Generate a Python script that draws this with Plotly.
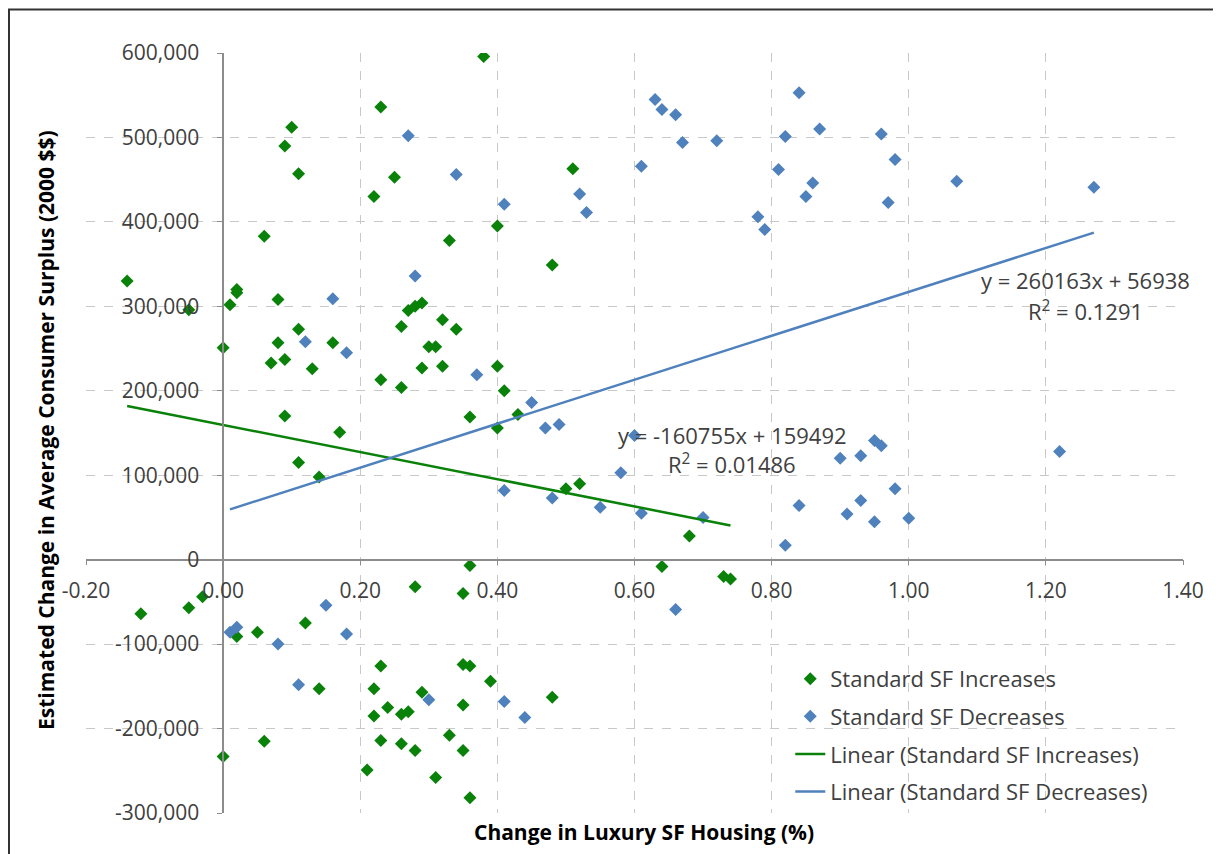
import plotly.graph_objects as go

# ---------------- data ----------------
inc_x = [-0.14, -0.05, 0.00, 0.01, 0.02, 0.02, 0.06, 0.08, 0.08, 0.07, 0.09, 0.09, 0.11, 0.13,
         0.11, 0.14, 0.17, 0.16, 0.09, 0.10, 0.11, 0.23, 0.22, 0.25, 0.23, 0.26, 0.26, 0.27,
         0.28, 0.29, 0.32, 0.34, 0.30, 0.31, 0.29, 0.32, 0.36, 0.40, 0.41, 0.40, 0.43, 0.50,
         0.52, 0.68, 0.38, 0.51, 0.40, 0.33, 0.48,
         0.36, 0.64, 0.73, 0.74, 0.28, 0.35, -0.12, -0.05, -0.03, 0.02, 0.05, 0.12, 0.14,
         0.06, 0.00, 0.23, 0.22, 0.24, 0.22, 0.26, 0.27, 0.29, 0.35, 0.36, 0.39, 0.35, 0.48,
         0.33, 0.23, 0.26, 0.28, 0.35, 0.31, 0.21, 0.36]
inc_y = [330000, 296000, 251000, 302000, 316000, 320000, 383000, 308000, 257000, 233000, 237000,
         170000, 273000, 226000, 115000, 98000, 151000, 257000, 490000, 512000, 457000, 536000,
         430000, 453000, 213000, 204000, 276000, 295000, 300000, 304000, 284000, 273000, 252000,
         252000, 227000, 229000, 169000, 229000, 200000, 156000, 172000, 84000, 90000, 28000,
         596000, 463000, 395000, 378000, 349000,
         -7000, -8000, -20000, -23000, -32000, -40000, -64000, -57000, -44000, -91000, -86000,
         -75000, -153000, -215000, -233000, -126000, -153000, -175000, -185000, -183000, -180000,
         -157000, -124000, -126000, -144000, -172000, -163000, -208000, -214000, -218000, -226000,
         -226000, -258000, -249000, -282000]

dec_x = [0.27, 0.28, 0.16, 0.12, 0.18, 0.34, 0.41, 0.52, 0.53, 0.61, 0.63, 0.64, 0.66, 0.67,
         0.72, 0.78, 0.79, 0.81, 0.82, 0.84, 0.85, 0.86, 0.87, 0.96, 0.98, 0.97, 1.07, 1.27,
         0.37, 0.45, 0.47, 0.49, 0.60, 0.58, 0.41, 0.48, 0.55, 0.61, 0.70, 0.84, 0.82, 0.90,
         0.93, 0.95, 0.96, 1.22, 0.98, 0.93, 0.91, 0.95, 1.00,
         0.66, 0.30, 0.41, 0.44, 0.01, 0.02, 0.08, 0.15, 0.18, 0.11]
dec_y = [502000, 336000, 309000, 258000, 245000, 456000, 421000, 433000, 411000, 466000, 545000,
         533000, 527000, 494000, 496000, 406000, 391000, 462000, 501000, 553000, 430000, 446000,
         510000, 504000, 474000, 423000, 448000, 441000,
         219000, 186000, 156000, 160000, 147000, 103000, 82000, 73000, 62000, 55000, 50000,
         64000, 17000, 120000, 123000, 141000, 135000, 128000, 84000, 70000, 54000, 45000, 49000,
         -59000, -166000, -168000, -187000, -86000, -80000, -100000, -54000, -88000, -148000]

# trendline coefficients (slope, intercept) as labelled on the chart
inc_fit = [-160755, 159492]
dec_fit = [260163, 56938]
inc_r2 = "0.01486"
dec_r2 = "0.1291"

series_names = ["Standard SF Increases", "Standard SF Decreases"]

x_range = [-0.2, 1.4]
y_range = [-300000, 600000]
x_tick_vals = [-0.2, 0.0, 0.2, 0.4, 0.6, 0.8, 1.0, 1.2, 1.4]
x_tick_text = ["-0.20", "0.00", "0.20", "0.40", "0.60", "0.80", "1.00", "1.20", "1.40"]
y_tick_vals = [-300000, -200000, -100000, 0, 100000, 200000, 300000, 400000, 500000, 600000]
y_tick_text = ["-300,000", "-200,000", "-100,000", "0", "100,000", "200,000", "300,000",
               "400,000", "500,000", "600,000"]

x_title = "Change in Luxury SF Housing (%)"
y_title = "Estimated Change in Average Consumer Surplus (2000 $$)"

# ---------------- styling ----------------
GREEN = "#0a820a"
BLUE = "#4F81BD"
FONT = "Open Sans"
TXT = "#404040"
OFF = 8                      # page body margin of the html page
W, H = 1221 - OFF, 854 - OFF
PL, PR, PT, PB = 86, 1183, 53, 813   # plot area in screen pixels
ML, MR, MT, MB = PL - OFF, W - (PR - OFF), PT - OFF, H - (PB - OFF)

fig = go.Figure()
fig.add_trace(go.Scatter(x=inc_x, y=inc_y, mode="markers", name=series_names[0],
                         marker=dict(symbol="diamond", size=10, color=GREEN),
                         legendgroup="a"))
fig.add_trace(go.Scatter(x=dec_x, y=dec_y, mode="markers", name=series_names[1],
                         marker=dict(symbol="diamond", size=10, color=BLUE),
                         legendgroup="b"))

lx_inc = [min(inc_x), max(inc_x)]
lx_dec = [min(dec_x), max(dec_x)]
fig.add_trace(go.Scatter(x=lx_inc, y=[inc_fit[0] * v + inc_fit[1] for v in lx_inc], mode="lines",
                         name="Linear (" + series_names[0] + ")",
                         line=dict(color=GREEN, width=2.5), legendgroup="c"))
fig.add_trace(go.Scatter(x=lx_dec, y=[dec_fit[0] * v + dec_fit[1] for v in lx_dec], mode="lines",
                         name="Linear (" + series_names[1] + ")",
                         line=dict(color=BLUE, width=2.5), legendgroup="d"))

xpos0 = (0 - x_range[0]) / (x_range[1] - x_range[0])
ypos0 = (0 - y_range[0]) / (y_range[1] - y_range[0])

axis_common = dict(showgrid=True, gridcolor="#c8c8c8", griddash="dash", gridwidth=1,
                   zeroline=False, showline=True, linecolor="#8c8c8c", linewidth=1.5,
                   ticks="outside", ticklen=5, tickcolor="#8c8c8c", automargin=False,
                   tickfont=dict(family=FONT, size=21, color=TXT), anchor="free")

fig.update_layout(
    width=W, height=H,
    margin=dict(l=ML, r=MR, t=MT, b=MB, autoexpand=False),
    paper_bgcolor="white", plot_bgcolor="white",
    font=dict(family=FONT, color=TXT),
    xaxis=dict(range=x_range, tickmode="array", tickvals=x_tick_vals, ticktext=x_tick_text,
               position=ypos0, ticklabelstandoff=7, **axis_common),
    yaxis=dict(range=y_range, tickmode="array", tickvals=y_tick_vals, ticktext=y_tick_text,
               position=xpos0, ticklabelstandoff=14, **axis_common),
    showlegend=True,
    legend=dict(x=0.642, y=0.204, xanchor="left", yanchor="top", bgcolor="rgba(0,0,0,0)",
                font=dict(family=FONT, size=22, color=TXT), traceorder="grouped",
                tracegroupgap=6),
)

def px_x(p):
    return (p - PL) / (PR - PL)

def px_y(p):
    return (PB - p) / (PB - PT)

def add_text(text, x, y, font, angle=0):
    fig.add_annotation(xref="paper", yref="paper", x=px_x(x), y=px_y(y), showarrow=False,
                       xanchor="center", yanchor="middle", text=text, font=font,
                       textangle=angle)

title_font = dict(family=FONT, size=21, color="black")
add_text("<b>" + x_title + "</b>", 644, 832, title_font)
add_text("<b>" + y_title + "</b>", 46, 430, title_font, -90)

# trendline equation labels
eq_font = dict(family=FONT, size=22, color=TXT)
add_text("y = %dx + %d" % (inc_fit[0], inc_fit[1]), 732, 435, eq_font)
add_text("R<sup>2</sup> = " + inc_r2, 732, 463, eq_font)
add_text("y = %dx + %d" % (dec_fit[0], dec_fit[1]), 1085, 280, eq_font)
add_text("R<sup>2</sup> = " + dec_r2, 1085, 311, eq_font)

# outer chart border
fig.add_shape(type="rect", xref="paper", yref="paper",
              x0=px_x(9), x1=px_x(1240), y0=px_y(880), y1=px_y(9.5),
              line=dict(color="#333333", width=2), fillcolor="rgba(0,0,0,0)", layer="below")

fig.write_html("out.html")
